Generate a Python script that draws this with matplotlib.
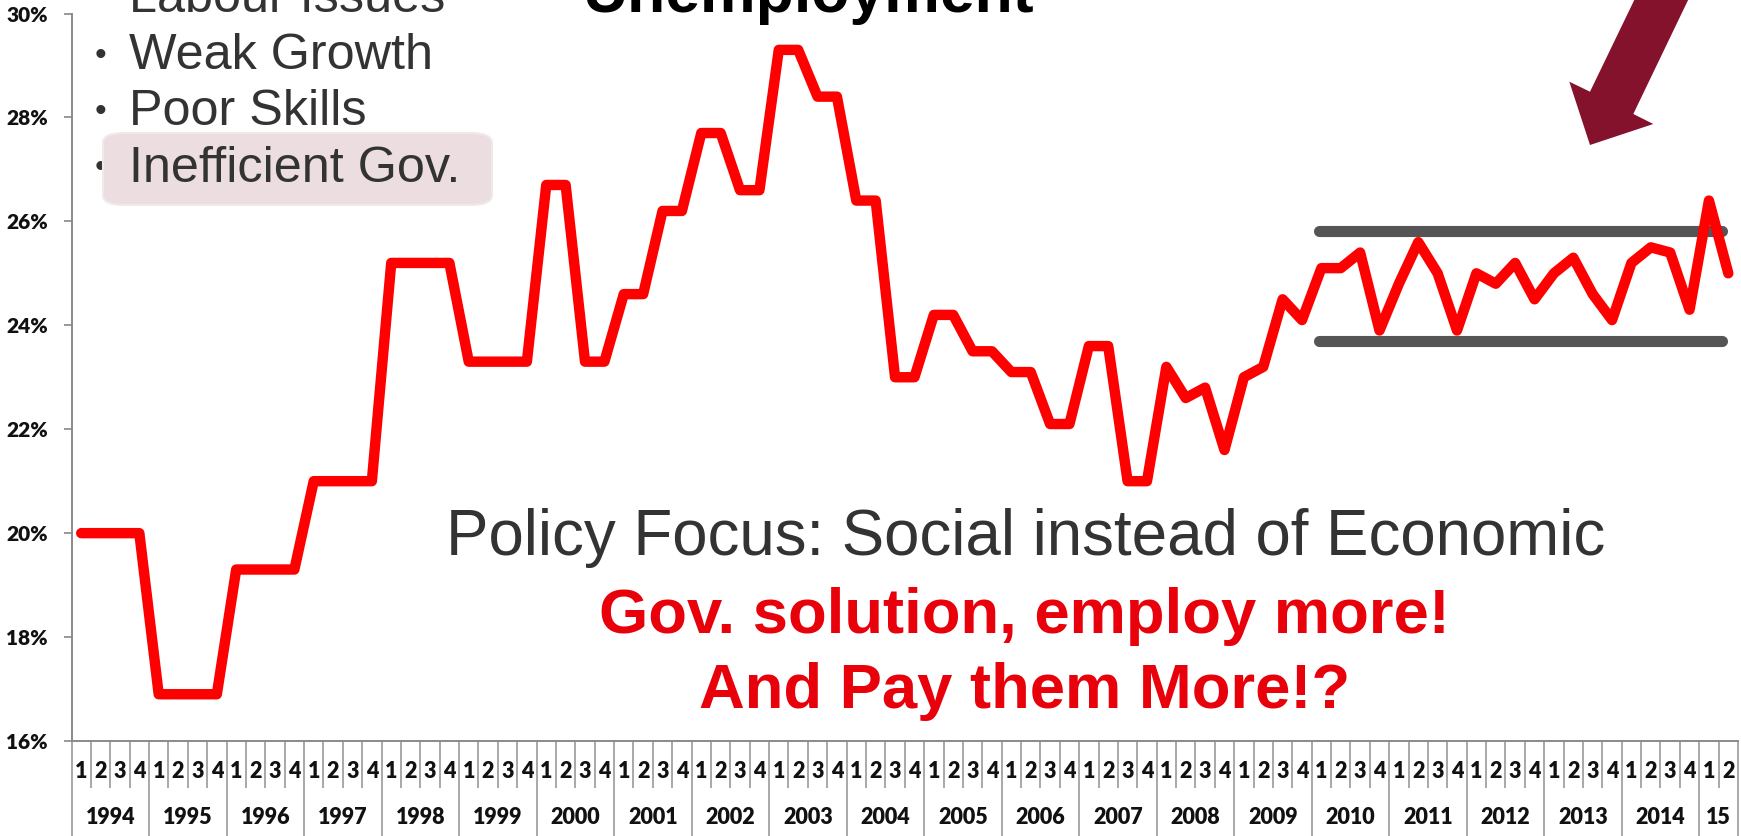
import matplotlib
matplotlib.use("Agg")
import matplotlib.pyplot as plt
from matplotlib.patches import Polygon, FancyBboxPatch
from matplotlib.transforms import blended_transform_factory
import numpy as np

# ---------------- data ----------------
year_labels = ["1994", "1995", "1996", "1997", "1998", "1999", "2000", "2001",
               "2002", "2003", "2004", "2005", "2006", "2007", "2008", "2009",
               "2010", "2011", "2012", "2013", "2014", "15"]
quarters_per_year = [4] * 21 + [2]
unemployment = [
    20.0, 20.0, 20.0, 20.0,   # 1994
    16.9, 16.9, 16.9, 16.9,   # 1995
    19.3, 19.3, 19.3, 19.3,   # 1996
    21.0, 21.0, 21.0, 21.0,   # 1997
    25.2, 25.2, 25.2, 25.2,   # 1998
    23.3, 23.3, 23.3, 23.3,   # 1999
    26.7, 26.7, 23.3, 23.3,   # 2000
    24.6, 24.6, 26.2, 26.2,   # 2001
    27.7, 27.7, 26.6, 26.6,   # 2002
    29.3, 29.3, 28.4, 28.4,   # 2003
    26.4, 26.4, 23.0, 23.0,   # 2004
    24.2, 24.2, 23.5, 23.5,   # 2005
    23.1, 23.1, 22.1, 22.1,   # 2006
    23.6, 23.6, 21.0, 21.0,   # 2007
    23.2, 22.6, 22.8, 21.6,   # 2008
    23.0, 23.2, 24.5, 24.1,   # 2009
    25.1, 25.1, 25.4, 23.9,   # 2010
    24.8, 25.6, 25.0, 23.9,   # 2011
    25.0, 24.8, 25.2, 24.5,   # 2012
    25.0, 25.3, 24.6, 24.1,   # 2013
    25.2, 25.5, 25.4, 24.3,   # 2014
    26.4, 25.0,               # 2015
]
y_ticks = [16, 18, 20, 22, 24, 26, 28, 30]
band_upper = 25.81
band_lower = 23.69
band_start = 63.9     # in quarter-index units
band_end = 84.7

bullets = ["Labour Issues", "Weak Growth", "Poor Skills", "Inefficient Gov."]
policy_text = "Policy Focus: Social instead of Economic"
red_lines = ["Gov. solution, employ more!", "And Pay them More!?"]
title_text = "Unemployment"

# ---------------- figure ----------------
W, H = 1741, 836
fig = plt.figure(figsize=(W / 100, H / 100), dpi=100)
fig.patch.set_facecolor("white")

def fx(px):
    return px / W

def fy(py):
    return 1 - py / H

ax_left, ax_right, ax_top, ax_bottom = 71.5, 1738, 13.5, 741
ax = fig.add_axes([fx(ax_left), fy(ax_bottom), fx(ax_right - ax_left),
                   (ax_bottom - ax_top) / H])

n = len(unemployment)
x = np.arange(n) + 0.5
ax.plot(x, unemployment, color="#ff0000", lw=7.5, solid_joinstyle="round",
        solid_capstyle="round", zorder=5, clip_on=False)

# band lines
ax.plot([band_start + 0.5, band_end + 0.5], [band_upper, band_upper],
        color="#555555", lw=8, solid_capstyle="round", zorder=4)
ax.plot([band_start + 0.5, band_end + 0.5], [band_lower, band_lower],
        color="#555555", lw=8, solid_capstyle="round", zorder=4)

ax.set_xlim(0, n)
ax.set_ylim(16, 30)
ax.set_yticks(y_ticks)
ax.set_yticklabels([f"{t}%" for t in y_ticks], fontfamily="Lato",
                   fontweight="heavy", fontsize=15, color="#111111")
ax.tick_params(axis="y", length=6, width=1.2, color="#888888", pad=11)

for s in ["top", "right"]:
    ax.spines[s].set_visible(False)
for s in ["left", "bottom"]:
    ax.spines[s].set_color("#8a8a8a")
    ax.spines[s].set_linewidth(1.4)

# category axis: quarter and year boundaries
boundaries_year = np.concatenate([[0], np.cumsum(quarters_per_year)])
ax.set_xticks(boundaries_year)
ax.set_xticklabels([])
ax.tick_params(axis="x", which="major", length=(H - ax_bottom) * 0.72,
               width=1.2, color="#9a9a9a", direction="out")
all_q = np.arange(n + 1)
minor = [q for q in all_q if q not in set(boundaries_year)]
ax.set_xticks(minor, minor=True)
ax.tick_params(axis="x", which="minor", length=(788 - ax_bottom) * 0.72,
               width=1.2, color="#9a9a9a", direction="out")

trans = blended_transform_factory(ax.transData, fig.transFigure)
qi = 0
for yl, nq in zip(year_labels, quarters_per_year):
    for q in range(nq):
        ax.text(qi + q + 0.5, fy(772), str(q + 1), transform=trans,
                ha="center", va="center", fontsize=15.5, fontweight="heavy",
                fontfamily="Lato", color="#111111")
    ax.text(qi + nq / 2, fy(817), yl, transform=trans, ha="center",
            va="center", fontsize=15.5, fontweight="heavy", fontfamily="Lato",
            color="#111111")
    qi += nq

# ---------------- annotations ----------------
fig.text(fx(808), fy(12), title_text, ha="center", va="baseline",
         fontsize=45, fontweight="bold", fontfamily="Liberation Sans",
         color="#000000")

text_gray = "#333333"
bullet_base = [12, 69, 125, 182]
for i, (b, yb) in enumerate(zip(bullets, bullet_base)):
    fig.text(fx(101), fy(yb - 13), "\u2022", ha="center", va="center",
             fontsize=24, fontfamily="Liberation Sans", color=text_gray,
             zorder=1)
    fig.text(fx(129), fy(yb), b, ha="left", va="baseline", fontsize=36.3,
             fontfamily="Liberation Sans", color=text_gray, zorder=10)

box = FancyBboxPatch((fx(103), fy(205)), fx(492 - 103), (205 - 133) / H,
                     boxstyle="round,pad=0,rounding_size=0.012",
                     transform=fig.transFigure, facecolor="#ecdde0",
                     edgecolor="#f1e8ea", lw=1.5, zorder=2)
fig.add_artist(box)

fig.text(fx(1026), fy(555), policy_text, ha="center", va="baseline",
         fontsize=45.8, fontfamily="Liberation Sans", color=text_gray)
fig.text(fx(1024), fy(633), red_lines[0], ha="center", va="baseline",
         fontsize=45.6, fontweight="bold", fontfamily="Liberation Sans",
         color="#e8000a")
fig.text(fx(1025), fy(708), red_lines[1], ha="center", va="baseline",
         fontsize=45.6, fontweight="bold", fontfamily="Liberation Sans",
         color="#e8000a")

# arrow (figure pixel coordinates)
arrow_px = [(1636.7, -5), (1690.5, -5), (1633.3, 114), (1653.3, 124),
            (1590, 145), (1569.3, 81.7), (1590, 91.7)]
arrow = Polygon([(fx(a), fy(b)) for a, b in arrow_px], closed=True,
                transform=fig.transFigure, facecolor="#85122d",
                edgecolor="none", zorder=20)
fig.add_artist(arrow)

fig.savefig("out.png", dpi=100, facecolor="white")
